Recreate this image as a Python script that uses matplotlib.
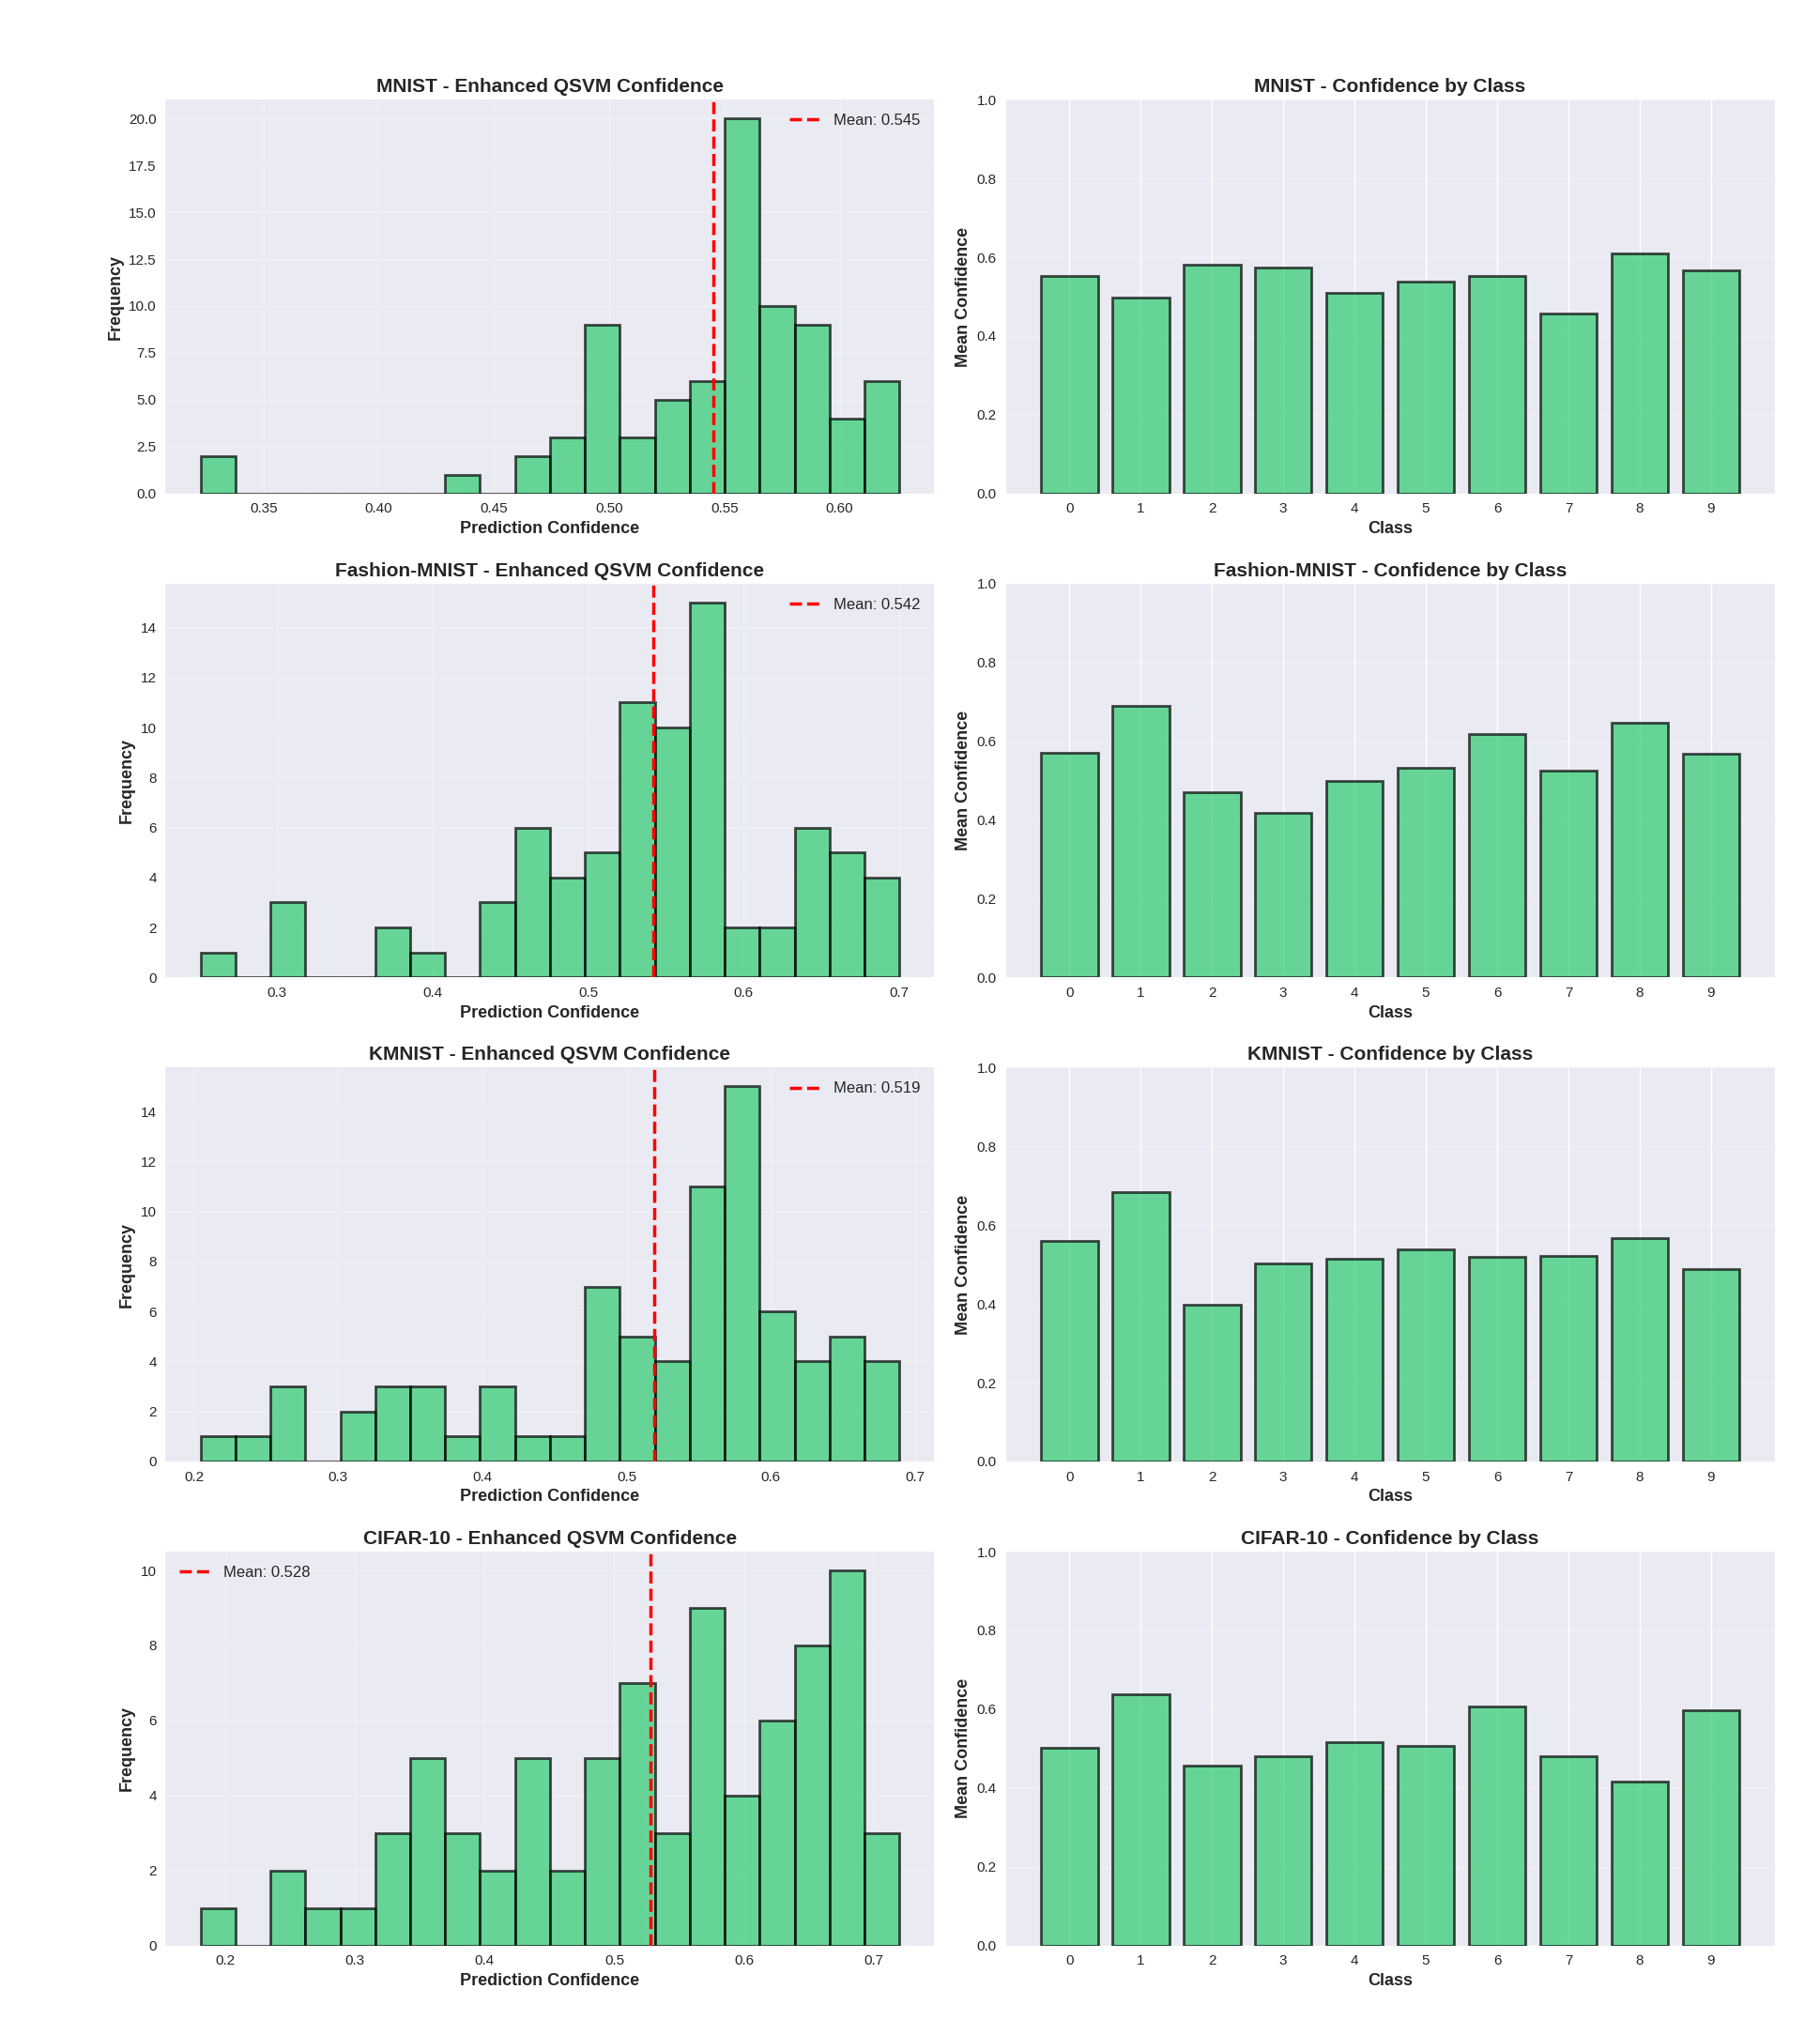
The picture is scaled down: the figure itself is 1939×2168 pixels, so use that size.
import numpy as np # numpy for the bin edges
import matplotlib
matplotlib.use("Agg")
import matplotlib.pyplot as plt # plotting

plt.style.use("seaborn-v0_8") # grey background with white grid
plt.rcParams['font.family'] = ['Liberation Sans Narrow', 'Liberation Sans', 'DejaVu Sans']

datasets = ['MNIST', 'Fashion-MNIST', 'KMNIST', 'CIFAR-10'] # names of the datasets
classes = [0, 1, 2, 3, 4, 5, 6, 7, 8, 9] # class labels

# histogram range (min, max confidence) and counts in 20 bins
mnist_range = (0.3227, 0.6259)
mnist_counts = [2, 0, 0, 0, 0, 0, 0, 1, 0, 2, 3, 9, 3, 5, 6, 20, 10, 9, 4, 6]
fashion_range = (0.2509, 0.7000)
fashion_counts = [1, 0, 3, 0, 0, 2, 1, 0, 3, 6, 4, 5, 11, 10, 15, 2, 2, 6, 5, 4]
kmnist_range = (0.2045, 0.6892)
kmnist_counts = [1, 1, 3, 0, 2, 3, 3, 1, 3, 1, 1, 7, 5, 4, 11, 15, 6, 4, 5, 4]
cifar_range = (0.1809, 0.7199)
cifar_counts = [1, 0, 2, 1, 1, 3, 5, 3, 2, 5, 2, 5, 7, 3, 9, 4, 6, 8, 10, 3]

means = [0.545, 0.542, 0.519, 0.528] # mean confidence per dataset

# mean confidence for each class
mnist_class = [0.553, 0.497, 0.581, 0.575, 0.510, 0.538, 0.553, 0.457, 0.610, 0.567]
fashion_class = [0.571, 0.690, 0.471, 0.419, 0.500, 0.533, 0.619, 0.525, 0.648, 0.569]
kmnist_class = [0.561, 0.685, 0.397, 0.504, 0.515, 0.539, 0.519, 0.523, 0.567, 0.488]
cifar_class = [0.501, 0.638, 0.456, 0.480, 0.517, 0.507, 0.608, 0.480, 0.415, 0.598]

ranges = [mnist_range, fashion_range, kmnist_range, cifar_range]
counts = [mnist_counts, fashion_counts, kmnist_counts, cifar_counts]
class_means = [mnist_class, fashion_class, kmnist_class, cifar_class]
legend_locs = ['upper right', 'upper right', 'upper right', 'upper left']

green = '#2ecc71'


def makeFigure():
    fig, axes = plt.subplots(4, 2, figsize=(19.39, 21.68), dpi=100)
    fig.subplots_adjust(left=0.091, right=0.975, top=0.951, bottom=0.044, wspace=0.093, hspace=0.229)

    for i in range(len(datasets)):
        name = datasets[i]
        ax = axes[i][0] # histogram on the left
        edges = np.linspace(ranges[i][0], ranges[i][1], len(counts[i]) + 1)
        centers = (edges[:-1] + edges[1:]) / 2
        ax.hist(centers, bins=edges, weights=counts[i], color=green, alpha=0.7,
                edgecolor='black', linewidth=2)
        ax.axvline(means[i], color='red', linestyle='--', linewidth=2.5, label='Mean: %.3f' % means[i])
        ax.set_title(name + ' - Enhanced QSVM Confidence', fontsize=15, fontweight='bold')
        ax.set_xlabel('Prediction Confidence', fontsize=13, fontweight='bold')
        ax.set_ylabel('Frequency', fontsize=13, fontweight='bold', family=['Liberation Sans', 'DejaVu Sans'])
        ax.tick_params(labelsize=11)
        ax.legend(loc=legend_locs[i], fontsize=12)
        ax.grid(True, alpha=0.3)

        ax2 = axes[i][1] # bars on the right
        ax2.bar(classes, class_means[i], color=green, alpha=0.7, edgecolor='black', linewidth=2)
        ax2.set_title(name + ' - Confidence by Class', fontsize=15, fontweight='bold')
        ax2.set_xlabel('Class', fontsize=13, fontweight='bold')
        ax2.set_ylabel('Mean Confidence', fontsize=13, fontweight='bold', family=['Liberation Sans', 'DejaVu Sans'])
        ax2.set_xticks(classes)
        ax2.set_ylim(0, 1)
        ax2.tick_params(labelsize=11)
        ax2.grid(True, alpha=0.3, axis='y')

    fig.savefig('out.png', dpi=100)


def main():
    makeFigure()

main()
